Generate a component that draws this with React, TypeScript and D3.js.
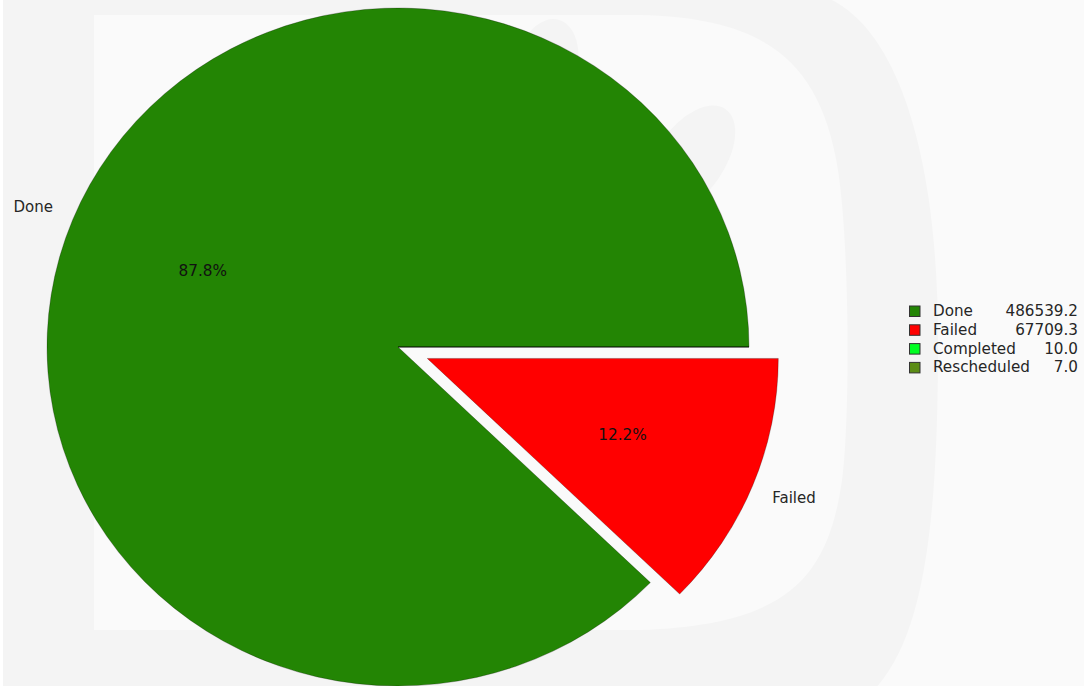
import React from "react";
import * as d3 from "d3";

const categories = ["Done", "Failed", "Completed", "Rescheduled"];
const values = [486539.2, 67709.3, 10.0, 7.0];
const colors = ["#238504", "#ff0000", "#00ff22", "#5b8c14"];
const explode = [0, 0.09, 0, 0];
const legendValues = ["486539.2", "67709.3", "10.0", "7.0"];

const W = 1084;
const H = 686;
const cx = 398;
const cy = 347;
const rx = 351;
const ry = 339;

export default function App() {
  const total = d3.sum(values);
  const pie = d3
    .pie<number>()
    .sort(null)
    .startAngle(Math.PI / 2)
    .endAngle(Math.PI / 2 - 2 * Math.PI);
  const arcs = pie(values);
  const arcGen = d3.arc<d3.PieArcDatum<number>>().innerRadius(0).outerRadius(1);
  const sx = d3.scaleLinear().domain([-1, 1]).range([cx - rx, cx + rx]);
  const sy = d3.scaleLinear().domain([-1, 1]).range([cy + ry, cy - ry]);

  const font = "'DejaVu Sans', sans-serif";

  const legendX = 909;
  const legendY0 = 305.5;
  const legendStep = 18.8;

  return (
    <div style={{ position: "absolute", left: 0, top: 0 }}>
      <svg width={W} height={H} style={{ display: "block" }}>
        <rect x={0} y={0} width={W} height={H} fill="#fafafa" />
        <rect x={0} y={0} width={3} height={H} fill="#ffffff" />
        {/* watermark D */}
        <path
          d="M3,-10 L790,-10 C890,-10 938,140 938,340 C938,560 920,720 800,720 L3,720 Z"
          fill="#f4f4f4"
        />
        <path
          d="M94,15 L640,15 C765,18 820,60 838,170 C850,250 850,420 842,480 C828,580 785,625 640,630 L94,630 Z"
          fill="#fafafa"
        />
        <ellipse cx={545} cy={70} rx={32} ry={52} fill="#f4f4f4" transform="rotate(15 545 70)" />
        <ellipse cx={690} cy={160} rx={34} ry={62} fill="#f4f4f4" transform="rotate(35 690 160)" />

        {arcs.map((a, i) => {
          const mid = (a.startAngle + a.endAngle) / 2;
          const mx = Math.sin(mid);
          const my = Math.cos(mid);
          const ox = sx(explode[i] * mx) - cx;
          const oy = sy(explode[i] * my) - cy;
          return (
            <path
              key={categories[i]}
              d={arcGen(a) || ""}
              transform={`translate(${cx + ox},${cy + oy}) scale(${rx},${ry})`}
              fill={colors[i]}
              stroke="rgba(0,0,0,0.25)"
              strokeWidth={1}
              vectorEffect="non-scaling-stroke"
            />
          );
        })}

        {arcs.map((a, i) => {
          const frac = values[i] / total;
          if (frac < 0.01) return null;
          const mid = (a.startAngle + a.endAngle) / 2;
          const mx = Math.sin(mid);
          const my = Math.cos(mid);
          const e = explode[i];
          const lx = sx((e + 1.06) * mx);
          const ly = sy((e + 1.1) * my);
          const px = sx((e + 0.6) * mx);
          const py = sy((e + 0.6) * my);
          return (
            <g key={"l" + categories[i]}>
              <text
                x={lx}
                y={ly}
                textAnchor={mx < 0 ? "end" : "start"}
                dominantBaseline="central"
                fontFamily={font}
                fontSize={15}
                fill="#262626"
              >
                {categories[i]}
              </text>
              <text
                x={px}
                y={py}
                textAnchor="middle"
                dominantBaseline="central"
                fontFamily={font}
                fontSize={15.3}
                fill="#111"
              >
                {d3.format(".1f")(frac * 100) + "%"}
              </text>
            </g>
          );
        })}

        {categories.map((c, i) => {
          const y = legendY0 + i * legendStep;
          return (
            <g key={"lg" + c}>
              <rect
                x={legendX + 0.5}
                y={y + 0.5}
                width={10.5}
                height={10.5}
                fill={colors[i]}
                stroke="#333"
                strokeWidth={1}
              />
              <text
                x={933}
                y={y + 10.5}
                fontFamily={font}
                fontSize={15.2}
                fill="#262626"
              >
                {c}
              </text>
              <text
                x={1078}
                y={y + 10.5}
                textAnchor="end"
                fontFamily={font}
                fontSize={15.2}
                fill="#262626"
              >
                {legendValues[i]}
              </text>
            </g>
          );
        })}
      </svg>
    </div>
  );
}
